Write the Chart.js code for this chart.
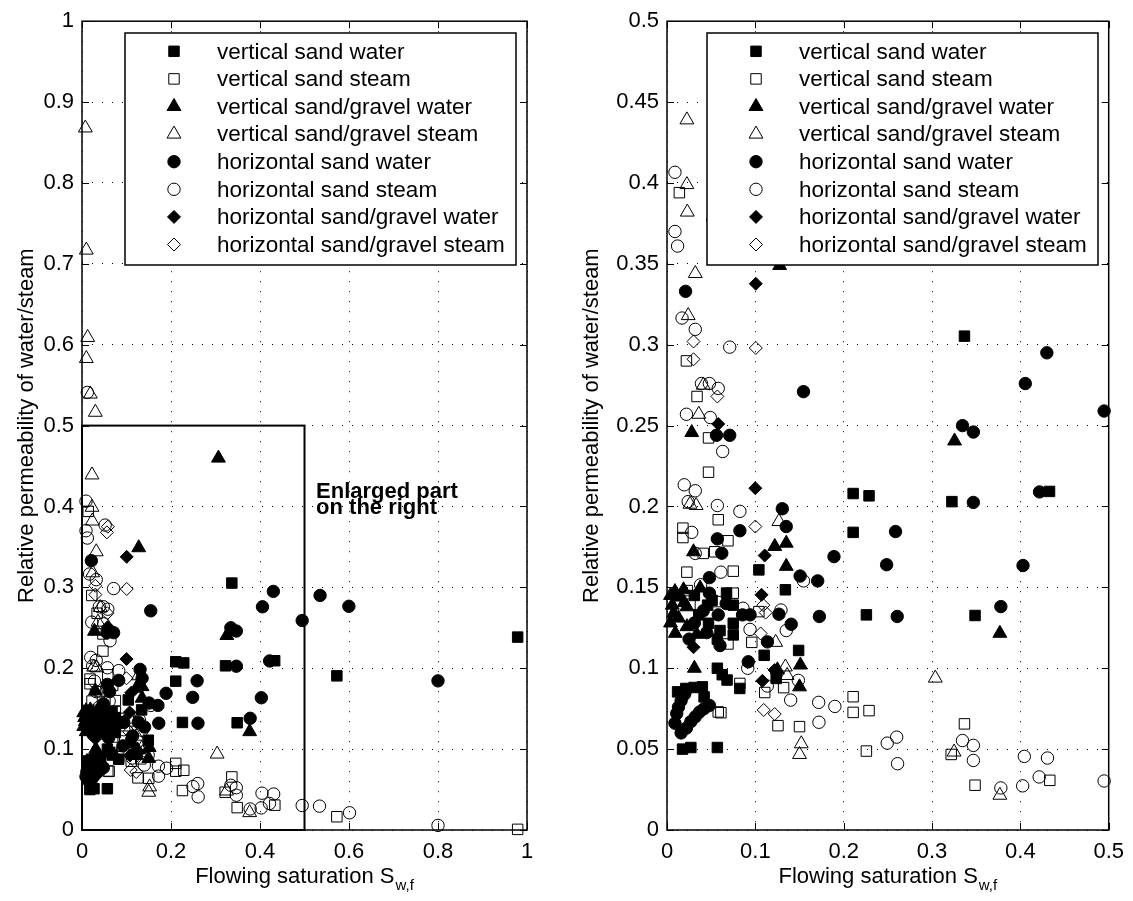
<!DOCTYPE html>
<html><head><meta charset="utf-8">
<style>
html,body{margin:0;padding:0;background:#fff;}
#wrap{position:relative;width:1133px;height:901px;overflow:hidden;background:#fff;}
canvas{position:absolute;top:0;}
#c1{left:0;} #c2{left:566px;}
</style>
<script src="https://cdn.jsdelivr.net/npm/chart.js@4.4.1/dist/chart.umd.min.js"></script>
</head><body><div id="wrap"><canvas id="c1" width="566" height="901"></canvas><canvas id="c2" width="567" height="901"></canvas></div>
<script>
// ---------------- data ----------------
const seriesLabels = [
  'vertical sand water','vertical sand steam','vertical sand/gravel water','vertical sand/gravel steam',
  'horizontal sand water','horizontal sand steam','horizontal sand/gravel water','horizontal sand/gravel steam'
];
const vertSandWater = [[0.3367,0.3053],[0.2107,0.208],[0.2287,0.2066],[0.2107,0.184],[0.3225,0.203],[0.433,0.2093],[0.104,0.1608],[0.134,0.1485],[0.2257,0.133],[0.3487,0.1326],[0.0674,0.1465],[0.046,0.139],[0.075,0.139],[0.047,0.1278],[0.06,0.1233],[0.075,0.1278],[0.075,0.1206],[0.057,0.118],[0.11,0.108],[0.149,0.111],[0.057,0.1],[0.0625,0.096],[0.068,0.0927],[0.1236,0.0937],[0.0824,0.0875],[0.012,0.0854],[0.0213,0.0875],[0.0307,0.0881],[0.04,0.0885],[0.042,0.0823],[0.0176,0.05],[0.027,0.051],[0.057,0.051],[0.031,0.145],[0.036,0.133],[0.051,0.142],[0.979,0.2385],[0.5727,0.1906]];
const vertSandSteam = [[0.014,0.394],[0.022,0.29],[0.034,0.268],[0.047,0.2424],[0.047,0.2212],[0.058,0.1918],[0.018,0.1866],[0.018,0.1808],[0.069,0.1788],[0.041,0.171],[0.054,0.172],[0.0225,0.1594],[0.075,0.16],[0.023,0.148],[0.075,0.1464],[0.058,0.1412],[0.026,0.1396],[0.104,0.135],[0.069,0.115],[0.096,0.116],[0.0825,0.0906],[0.132,0.088],[0.1106,0.085],[0.058,0.073],[0.061,0.0725],[0.2107,0.0824],[0.2107,0.0727],[0.2287,0.0738],[0.1256,0.0645],[0.15,0.0639],[0.2257,0.0488],[0.3367,0.0656],[0.3217,0.0467],[0.3487,0.0277],[0.4333,0.0307],[0.5727,0.0164],[0.979,0.0008]];
const vertGravelWater = [[0.3066,0.4598],[0.1275,0.349],[0.028,0.2457],[0.3255,0.2405],[0.122,0.1753],[0.135,0.1773],[0.03,0.172],[0.135,0.163],[0.3768,0.1216],[0.009,0.1474],[0.0187,0.1485],[0.0375,0.1496],[0.0075,0.134],[0.0225,0.138],[0.0094,0.1216],[0.0225,0.1257],[0.006,0.139],[0.0195,0.1406],[0.0337,0.121],[0.031,0.1],[0.151,0.102],[0.15,0.0885],[0.125,0.099],[0.004,0.128],[0.013,0.131],[0.015,0.144],[0.004,0.145]];
const vertGravelSteam = [[0.0075,0.868],[0.0097,0.717],[0.0127,0.609],[0.0097,0.583],[0.0187,0.539],[0.03,0.5165],[0.0225,0.439],[0.0225,0.399],[0.023,0.382],[0.032,0.344],[0.024,0.318],[0.041,0.275],[0.036,0.257],[0.026,0.2014],[0.033,0.2006],[0.1267,0.1907],[0.123,0.116],[0.134,0.1008],[0.136,0.0955],[0.152,0.0533],[0.15,0.0467],[0.3037,0.0939],[0.325,0.0482],[0.3768,0.0215]];
const horizSandWater = [[0.021,0.333],[0.1545,0.271],[0.43,0.295],[0.4056,0.276],[0.4948,0.259],[0.3345,0.25],[0.3468,0.246],[0.056,0.244],[0.071,0.244],[0.1305,0.1986],[0.135,0.1876],[0.0825,0.185],[0.057,0.18],[0.062,0.1711],[0.189,0.169],[0.048,0.156],[0.1507,0.157],[0.1706,0.154],[0.2486,0.164],[0.2587,0.1845],[0.1725,0.132],[0.2606,0.132],[0.3468,0.2025],[0.4217,0.209],[0.403,0.1635],[0.3779,0.1381],[0.048,0.1464],[0.041,0.1355],[0.058,0.133],[0.0855,0.133],[0.094,0.133],[0.1267,0.1334],[0.1406,0.1272],[0.031,0.128],[0.06,0.114],[0.1137,0.1163],[0.092,0.104],[0.025,0.118],[0.045,0.122],[0.067,0.14],[0.02,0.084],[0.016,0.08],[0.013,0.076],[0.011,0.072],[0.009,0.066],[0.016,0.06],[0.022,0.063],[0.027,0.067],[0.032,0.07],[0.037,0.073],[0.042,0.075],[0.048,0.077],[0.535,0.29],[0.5997,0.2766],[0.8,0.1844]];
const horizSandSteam = [[0.012,0.541],[0.009,0.4066],[0.009,0.37],[0.012,0.361],[0.052,0.377],[0.017,0.3165],[0.032,0.3095],[0.071,0.2985],[0.039,0.276],[0.048,0.276],[0.058,0.273],[0.022,0.257],[0.049,0.255],[0.063,0.234],[0.0195,0.2134],[0.032,0.2097],[0.024,0.203],[0.057,0.2006],[0.0825,0.197],[0.028,0.184],[0.032,0.171],[0.061,0.1594],[0.1545,0.154],[0.038,0.1516],[0.086,0.1371],[0.129,0.136],[0.135,0.1233],[0.094,0.124],[0.0914,0.1],[0.1135,0.089],[0.1487,0.0925],[0.14,0.0803],[0.1717,0.0789],[0.19,0.0764],[0.172,0.0666],[0.2493,0.0537],[0.26,0.0574],[0.261,0.041],[0.3345,0.0553],[0.3468,0.0523],[0.3468,0.043],[0.3779,0.026],[0.4045,0.0455],[0.4307,0.0445],[0.4213,0.0328],[0.4026,0.0273],[0.4948,0.0303],[0.5337,0.0295],[0.6012,0.0213],[0.8,0.0057]];
const horizGravelWater = [[0.1005,0.3377],[0.058,0.251],[0.1,0.2113],[0.1106,0.1697],[0.107,0.1454],[0.03,0.113],[0.108,0.0922],[0.1218,0.0989]];
const horizGravelSteam = [[0.058,0.375],[0.056,0.368],[0.03,0.302],[0.03,0.291],[0.1005,0.298],[0.057,0.268],[0.1,0.1876],[0.109,0.139],[0.1117,0.1344],[0.106,0.1215],[0.1095,0.0742],[0.1219,0.0717]];

const leftXTicks = [0, 0.2, 0.4, 0.6, 0.8, 1];
const leftYTicks = [0, 0.1, 0.2, 0.3, 0.4, 0.5, 0.6, 0.7, 0.8, 0.9, 1];
const rightXTicks = [0, 0.1, 0.2, 0.3, 0.4, 0.5];
const rightYTicks = [0, 0.05, 0.1, 0.15, 0.2, 0.25, 0.3, 0.35, 0.4, 0.45, 0.5];
const xTitleMain = 'Flowing saturation S';
const xTitleSub = 'w,f';
const yTitle = 'Relative permeability of water/steam';
const noteLines = ['Enlarged part', 'on the right'];
const notePos = [0.526, 0.411, 0.3906];   // x, baseline y of line 1, line 2 (data units)
const enlargedRegion = [0, 0.5, 0, 0.5];  // xmin, xmax, ymin, ymax

// ---------------- styling ----------------
const FONT = '"Liberation Sans", Arial, Helvetica, sans-serif';
const allSeries = [vertSandWater, vertSandSteam, vertGravelWater, vertGravelSteam, horizSandWater, horizSandSteam, horizGravelWater, horizGravelSteam];
const markerStyles = ['rect','rect','triangle','triangle','circle','circle','rectRot','rectRot'];
const markerFilled = [true,false,true,false,true,false,true,false];
const markerRadius = [7.4,7.4,8,8,6.2,6.2,6.5,6.5];

function markerPath(ctx, style, x, y, r) {
  ctx.beginPath();
  if (style === 'circle') ctx.arc(x, y, r, 0, Math.PI * 2);
  else if (style === 'rect') { const s = Math.SQRT1_2 * r; ctx.rect(x - s, y - s, 2 * s, 2 * s); }
  else if (style === 'triangle') {
    const a = 2 * Math.PI / 3;
    ctx.moveTo(x, y - r);
    ctx.lineTo(x + r * Math.sin(a), y - r * Math.cos(a));
    ctx.lineTo(x + r * Math.sin(2 * a), y - r * Math.cos(2 * a));
    ctx.closePath();
  } else { ctx.moveTo(x - r, y); ctx.lineTo(x, y - r); ctx.lineTo(x + r, y); ctx.lineTo(x, y + r); ctx.closePath(); }
}

const fmt = v => String(+(+v).toFixed(4));

const framePlugin = {
  id: 'frame',
  afterDatasetsDraw(chart, args, o) {
    const ctx = chart.ctx, a = chart.chartArea, xs = chart.scales.x, ys = chart.scales.y;
    ctx.save();
    if (o.showBox) {
      const x0 = xs.getPixelForValue(enlargedRegion[0]), x1 = xs.getPixelForValue(enlargedRegion[1]);
      const y0 = ys.getPixelForValue(enlargedRegion[2]), y1 = ys.getPixelForValue(enlargedRegion[3]);
      ctx.strokeStyle = '#000'; ctx.lineWidth = 2;
      ctx.strokeRect(x0, y1, x1 - x0, y0 - y1);
      ctx.fillStyle = '#000';
      ctx.font = 'bold 22px ' + FONT;
      ctx.textAlign = 'left'; ctx.textBaseline = 'alphabetic';
      ctx.fillText(noteLines[0], xs.getPixelForValue(notePos[0]), ys.getPixelForValue(notePos[1]));
      ctx.fillText(noteLines[1], xs.getPixelForValue(notePos[0]), ys.getPixelForValue(notePos[2]));
    }
    // legend box
    const lw = 391, lh = 232;
    const lx = Math.round(a.right - 11 - lw), ly = Math.round(a.top + 12);
    ctx.fillStyle = '#fff';
    ctx.fillRect(lx, ly, lw, lh);
    ctx.strokeStyle = '#000'; ctx.lineWidth = 1.5;
    ctx.strokeRect(lx, ly, lw, lh);
    ctx.font = '22.5px ' + FONT;
    ctx.textAlign = 'left'; ctx.textBaseline = 'middle';
    chart.data.datasets.forEach((ds, i) => {
      const cy = ly + 18.3 + i * 27.6;
      markerPath(ctx, ds.pointStyle, lx + 49, cy, ds.pointRadius);
      if (markerFilled[i]) { ctx.fillStyle = '#000'; ctx.fill(); }
      ctx.strokeStyle = '#000'; ctx.lineWidth = 1; ctx.stroke();
      ctx.fillStyle = '#000';
      ctx.fillText(ds.label, lx + 92, cy + 1);
    });
    // frame
    ctx.strokeStyle = '#000'; ctx.lineWidth = 1.5;
    ctx.strokeRect(a.left, a.top, a.right - a.left, a.bottom - a.top);
    ctx.lineWidth = 1;
    ctx.beginPath();
    o.xTicks.forEach(v => {
      const p = Math.round(xs.getPixelForValue(v)) + 0.5;
      ctx.moveTo(p, a.bottom); ctx.lineTo(p, a.bottom - 7);
      ctx.moveTo(p, a.top); ctx.lineTo(p, a.top + 7);
    });
    o.yTicks.forEach(v => {
      const p = Math.round(ys.getPixelForValue(v)) + 0.5;
      ctx.moveTo(a.left, p); ctx.lineTo(a.left + 7, p);
      ctx.moveTo(a.right, p); ctx.lineTo(a.right - 7, p);
    });
    ctx.stroke();
    // x title with subscript
    ctx.fillStyle = '#000';
    ctx.textBaseline = 'alphabetic'; ctx.textAlign = 'left';
    ctx.font = '22px ' + FONT;
    const wMain = ctx.measureText(xTitleMain).width;
    ctx.font = '15px ' + FONT;
    const wSub = ctx.measureText(xTitleSub).width;
    const cx = (a.left + a.right) / 2;
    const sx = cx - (wMain + 1 + wSub) / 2;
    ctx.font = '22px ' + FONT;
    ctx.fillText(xTitleMain, sx, a.bottom + 53);
    ctx.font = '15px ' + FONT;
    ctx.fillText(xTitleSub, sx + wMain + 1, a.bottom + 60);
    ctx.restore();
  }
};

function makeChart(canvas, cfg) {
  return new Chart(canvas, {
    type: 'scatter',
    data: {
      datasets: allSeries.map((s, i) => ({
        label: seriesLabels[i],
        data: s.filter(cfg.keep).map(([x, y]) => ({x, y})),
        pointStyle: markerStyles[i],
        pointRadius: markerRadius[i],
        pointHoverRadius: markerRadius[i],
        backgroundColor: markerFilled[i] ? '#000' : 'rgba(0,0,0,0)',
        borderColor: '#000',
        borderWidth: 1,
        clip: false,
        order: -i
      }))
    },
    options: {
      responsive: false, animation: false, devicePixelRatio: 1, events: [],
      layout: {padding: {left: 0, top: 18, right: cfg.padRight, bottom: 0}},
      plugins: {legend: {display: false}, tooltip: {enabled: false},
        frame: {showBox: cfg.showBox, xTicks: cfg.xTicks, yTicks: cfg.yTicks}},
      scales: {
        x: {
          type: 'linear', min: cfg.xTicks[0], max: cfg.xTicks[cfg.xTicks.length - 1],
          afterBuildTicks: s => { s.ticks = cfg.xTicks.map(v => ({value: v})); },
          afterFit: s => { s.height = 71; },
          ticks: {font: {size: 22, family: FONT}, color: '#000', padding: 9, maxRotation: 0, autoSkip: false, callback: v => fmt(v)},
          grid: {color: '#000', lineWidth: 1, drawTicks: false},
          border: {display: false, dash: [1, 9]}
        },
        y: {
          type: 'linear', min: cfg.yTicks[0], max: cfg.yTicks[cfg.yTicks.length - 1],
          afterBuildTicks: s => { s.ticks = cfg.yTicks.map(v => ({value: v})); },
          afterFit: s => { s.width = cfg.yWidth; },
          ticks: {font: {size: 22, family: FONT}, color: '#000', padding: 8, autoSkip: false, callback: v => fmt(v)},
          grid: {color: '#000', lineWidth: 1, drawTicks: false},
          border: {display: false, dash: [1, 9]},
          title: {display: true, text: yTitle, color: '#000', font: {size: 22, family: FONT}, padding: {top: cfg.titlePad, bottom: 0}}
        }
      }
    },
    plugins: [framePlugin]
  });
}

makeChart(document.getElementById('c1'), {
  keep: () => true, padRight: 39, yWidth: 82, titlePad: 14, showBox: true,
  xTicks: leftXTicks, yTicks: leftYTicks
});
makeChart(document.getElementById('c2'), {
  keep: ([x, y]) => x <= 0.5 && y <= 0.5, padRight: 22, yWidth: 101, titlePad: 13, showBox: false,
  xTicks: rightXTicks, yTicks: rightYTicks
});
</script>
</body></html>
